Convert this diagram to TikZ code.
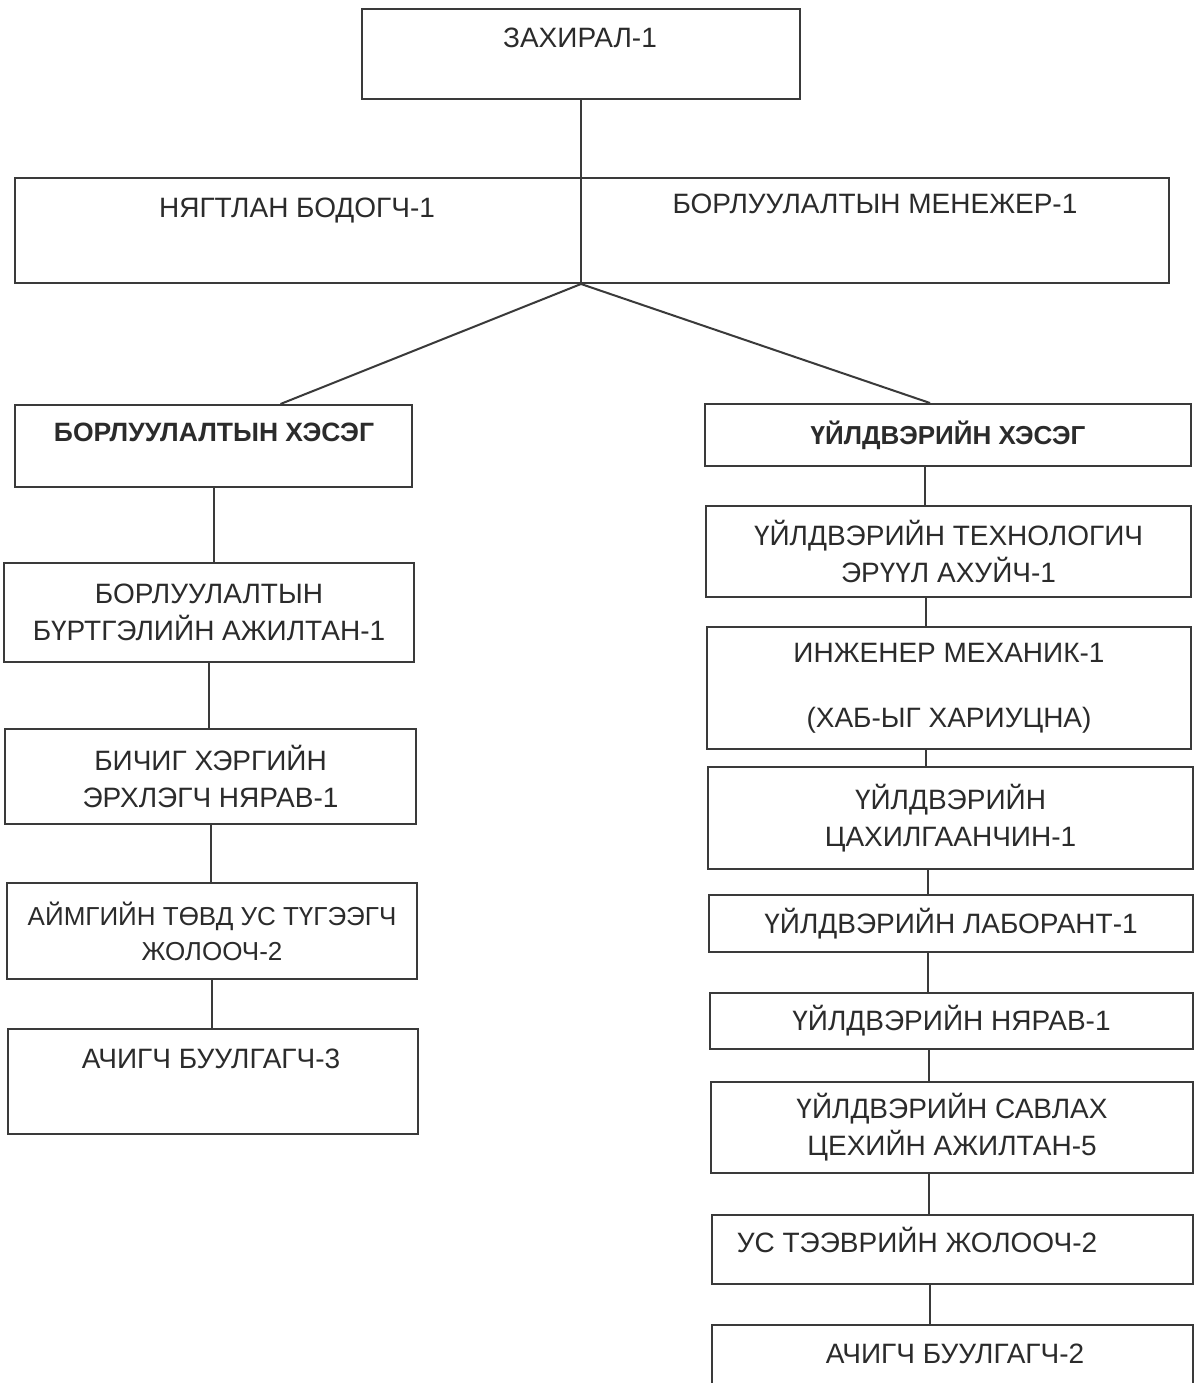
\documentclass[tikz,border=0pt]{standalone}
\usepackage{fontspec}
\setmainfont{Liberation Sans}
\usepackage{tikz}
\usetikzlibrary{calc}
\definecolor{ink}{HTML}{2B2B2B}
\definecolor{rule}{HTML}{3A3A3A}
\definecolor{paper}{HTML}{FFFFFF}
\tikzset{
  orgbox/.style={draw=rule,fill=paper,line width=2pt,align=center,inner sep=0pt,text=ink,font=\fontsize{28}{37}\selectfont},
  headbox/.style={orgbox,font=\fontsize{26}{30}\selectfont\bfseries},
  orgtxt/.style={inner sep=0pt,text=ink,text height=20pt,text depth=0pt,font=\fontsize{28}{37}\selectfont},
  headtxt/.style={orgtxt,text height=19pt,font=\fontsize{26.5}{30}\selectfont\bfseries},
  orglink/.style={draw=rule,line width=2pt}
}

\begin{document}
\begin{tikzpicture}[x=1pt,y=-1pt]
  \path[use as bounding box,fill=paper] (0,0) rectangle (1194,1383);
  \clip (0,0) rectangle (1194,1383);
  % top level
  \node[orgbox,minimum width=438pt,minimum height=90pt] (dir) at (581,54) {};
  \node[orgtxt] (dirtxt) at (580,38) {ЗАХИРАЛ-1};
  \node[orgbox,minimum width=1154pt,minimum height=105pt] (mgmt) at (592,230.5) {};
  \node[orgtxt] (acc) at (297,207) {НЯГТЛАН БОДОГЧ-1};
  \node[orgtxt] (smgr) at (875,203) {БОРЛУУЛАЛТЫН МЕНЕЖЕР-1};
  % sales side
  \node[orgbox,minimum width=397pt,minimum height=82pt] (sales) at (213.5,446) {};
  \node[headtxt] (salestxt) at (214,432) {БОРЛУУЛАЛТЫН ХЭСЭГ};
  \node[orgbox,minimum width=410pt,minimum height=99pt] (sreg) at (209,612.5)
    {БОРЛУУЛАЛТЫН\\БҮРТГЭЛИЙН АЖИЛТАН-1};
  \node[orgbox,minimum width=411pt,minimum height=95pt] (clerk) at (210.5,776.5)
    {БИЧИГ ХЭРГИЙН\\ЭРХЛЭГЧ НЯРАВ-1};
  \node[orgbox,minimum width=410pt,minimum height=96pt,font=\fontsize{26}{35}\selectfont] (sdrv) at (212,931)
    {АЙМГИЙН ТӨВД УС ТҮГЭЭГЧ\\ЖОЛООЧ-2};
  \node[orgbox,minimum width=410pt,minimum height=105pt] (load3) at (213,1081.5) {};
  \node[orgtxt] (load3txt) at (211,1058) {АЧИГЧ БУУЛГАГЧ-3};
  % production side
  \node[headbox,minimum width=486pt,minimum height=62pt] (prod) at (948,435) {ҮЙЛДВЭРИЙН ХЭСЭГ};
  \node[orgbox,minimum width=485pt,minimum height=91pt] (tech) at (948.5,551.5)
    {ҮЙЛДВЭРИЙН ТЕХНОЛОГИЧ\\ЭРҮҮЛ АХУЙЧ-1};
  \node[orgbox,minimum width=484pt,minimum height=122pt] (eng) at (949,688)
    {ИНЖЕНЕР МЕХАНИК-1\\[28pt](ХАБ-ЫГ ХАРИУЦНА)};
  \node[orgbox,minimum width=485pt,minimum height=102pt] (elec) at (950.5,818)
    {ҮЙЛДВЭРИЙН\\ЦАХИЛГААНЧИН-1};
  \node[orgbox,minimum width=484pt,minimum height=57pt] (lab) at (951,923.5) {ҮЙЛДВЭРИЙН ЛАБОРАНТ-1};
  \node[orgbox,minimum width=483pt,minimum height=56pt] (stock) at (951.5,1021) {ҮЙЛДВЭРИЙН НЯРАВ-1};
  \node[orgbox,minimum width=482pt,minimum height=91pt] (pack) at (952,1127.5)
    {ҮЙЛДВЭРИЙН САВЛАХ\\ЦЕХИЙН АЖИЛТАН-5};
  \node[orgbox,minimum width=481pt,minimum height=69pt] (drv) at (952.5,1249.5) {};
  \node[orgtxt] (drvtxt) at (917,1242) {УС ТЭЭВРИЙН ЖОЛООЧ-2};
  \node[orgbox,minimum width=481pt,minimum height=80pt] (load2) at (952.5,1365) {};
  \node[orgtxt] (load2txt) at (955,1353) {АЧИГЧ БУУЛГАГЧ-2};
  % connectors
  \coordinate (fork) at (dir.south |- mgmt.south);
  \draw[orglink] (dir.south) -- (fork);
  \draw[orglink] (fork) -- ([xshift=67pt]sales.north);
  \draw[orglink] (fork) -- ([xshift=-18pt]prod.north);
  \foreach \a/\b in {sales/sreg,sreg/clerk,clerk/sdrv,sdrv/load3}
    \draw[orglink] (\a.south) -- (\a.south |- \b.north);
  \foreach \a/\b in {prod/tech,tech/eng,eng/elec,elec/lab,lab/stock,stock/pack,pack/drv,drv/load2}
    \draw[orglink] ([xshift=-23pt]\a.south) -- ([xshift=-23pt]\a.south |- \b.north);
\end{tikzpicture}
\end{document}
